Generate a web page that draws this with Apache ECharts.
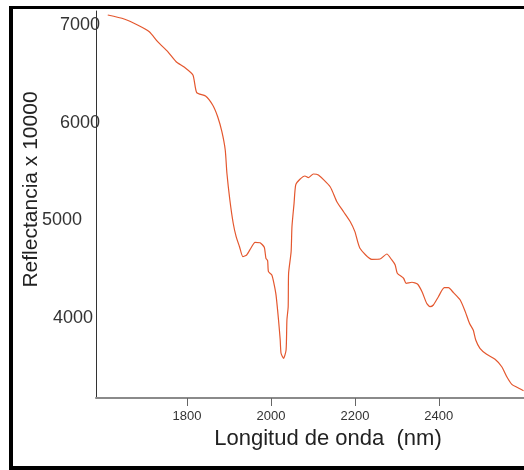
<!DOCTYPE html>
<html>
<head>
<meta charset="utf-8">
<script src="https://cdn.jsdelivr.net/npm/echarts@6/dist/echarts.min.js"></script>
<style>html,body{margin:0;padding:0;background:#fff}#c{width:524px;height:470px}</style>
</head>
<body>
<div id="c"></div>
<script>
var wavelengths = [1611,1650,1682,1710,1730,1754,1774,1794,1814,1823,1844,1861,1873,1883,1891,1895,1902,1910,1917,1925,1933,1942,1952,1962,1974,1984,1988,1992,1994,2002,2007,2012,2018,2022,2024,2030,2036,2038,2041,2042,2048,2050,2055,2059,2069,2081,2089,2101,2113,2141,2157,2173,2189,2200,2212,2240,2260,2276,2288,2296,2301,2316,2322,2336,2349,2360,2371,2379,2387,2399,2413,2423,2435,2451,2463,2473,2482,2488,2498,2514,2534,2550,2562,2574,2586,2602];
var reflectance = [7102,7061,7000,6931,6829,6727,6624,6567,6488,6307,6273,6181,6061,5908,5720,5482,5208,4970,4833,4730,4628,4645,4714,4775,4771,4724,4611,4587,4474,4440,4355,4236,3980,3775,3639,3587,3673,3980,4116,4458,4679,4935,5174,5362,5420,5454,5437,5474,5464,5344,5191,5088,4986,4884,4714,4601,4604,4655,4594,4543,4458,4407,4355,4366,4348,4269,4151,4116,4133,4218,4310,4310,4259,4184,4065,3946,3877,3775,3690,3628,3577,3501,3399,3321,3291,3256];
var xTicks = [1800,2000,2200,2400];
var yTicks = [4000,5000,6000,7000];
var xName = 'Longitud de onda  (nm)';
var yName = 'Reflectancia x 10000';

var data = wavelengths.map(function(w,i){return [w, reflectance[i]];});
var font = 'Liberation Sans, Arial, sans-serif';
var chart = echarts.init(document.getElementById('c'));
chart.setOption({
  backgroundColor: '#fff',
  animation: false,
  grid: {left: 96, right: 0, top: 11, bottom: 72},
  xAxis: {
    type: 'value', min: 1583, max: 2603,
    splitLine: {show: false},
    axisLine: {show: true, lineStyle: {color: '#8a8a8a', width: 2}},
    axisTick: {show: true, customValues: xTicks, length: 8, lineStyle: {color: '#666', width: 1}},
    axisLabel: {customValues: xTicks, fontSize: 13, color: '#333', fontFamily: font, margin: 12,
      formatter: function(v){ return String(v); }},
    name: xName, nameLocation: 'middle', nameGap: 30, nameMoveOverlap: false,
    nameTextStyle: {fontSize: 22, color: '#222', fontFamily: font, padding: [0, 0, 0, 36]}
  },
  yAxis: {
    type: 'value', min: 3181, max: 7143,
    splitLine: {show: false},
    axisLine: {show: true, lineStyle: {color: '#333', width: 1}},
    axisTick: {show: false},
    axisLabel: {
      customValues: yTicks, fontSize: 18, color: '#333', fontFamily: font, margin: -4,
      formatter: function(v){ return '{r' + v + '|' + v + '}'; },
      rich: {
        r7000: {}, r6000: {},
        r5000: {padding: [0, 18, 0, 0]},
        r4000: {padding: [0, 7, 0, 0]}
      }
    },
    name: yName, nameLocation: 'middle', nameGap: 54, nameRotate: 90, nameMoveOverlap: false,
    nameTextStyle: {fontSize: 21, color: '#222', fontFamily: font, padding: [0, 0, 0, 30]}
  },
  series: [{
    type: 'line', data: data, showSymbol: false, smooth: 0.2,
    lineStyle: {color: '#e4572e', width: 1.2}
  }],
  graphic: [
    {type: 'line', shape: {x1: 11, y1: 6, x2: 11, y2: 470}, style: {stroke: '#000', lineWidth: 4}, z: 100},
    {type: 'line', shape: {x1: 9, y1: 7.5, x2: 524, y2: 7.5}, style: {stroke: '#000', lineWidth: 3}, z: 100},
    {type: 'line', shape: {x1: 9, y1: 468, x2: 524, y2: 468}, style: {stroke: '#000', lineWidth: 4}, z: 100}
  ]
});
</script>
</body>
</html>
